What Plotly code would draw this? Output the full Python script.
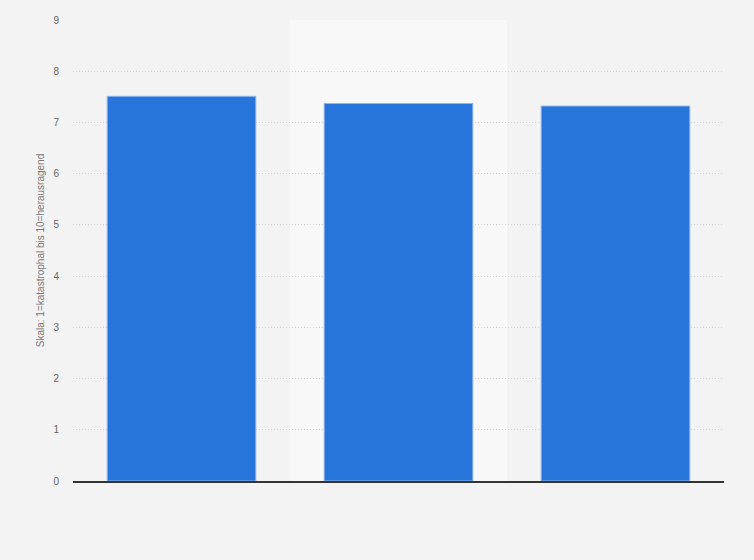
import plotly.graph_objects as go

categories = ["Kategorie 1", "Kategorie 2", "Kategorie 3"]
values = [7.51, 7.37, 7.32]
y_ticks = [0, 1, 2, 3, 4, 5, 6, 7, 8, 9]
y_title = "Skala: 1=katastrophal bis 10=herausragend"

fig = go.Figure()
fig.add_trace(
    go.Bar(
        x=categories,
        y=values,
        width=0.685,
        marker=dict(color="#2775db", line=dict(color="#8fb6ec", width=1)),
        hoverinfo="y",
    )
)

# highlighted middle column band
fig.add_shape(
    type="rect", xref="x", yref="paper",
    x0=0.5, x1=1.5, y0=0, y1=1,
    fillcolor="#f8f8f8", line=dict(width=0), layer="below",
)

fig.update_layout(
    width=754,
    height=560,
    margin=dict(l=73, r=30, t=20, b=79),
    paper_bgcolor="#f3f3f3",
    plot_bgcolor="#f3f3f3",
    font=dict(family="Arial, Liberation Sans, sans-serif", color="#666666", size=10),
    showlegend=False,
    bargap=0.3,
)
fig.update_xaxes(
    showticklabels=False,
    showgrid=False,
    showline=True,
    linecolor="#333333",
    linewidth=1.5,
    zeroline=False,
    range=[-0.5, 2.5],
)
fig.update_yaxes(
    range=[0, 9],
    tickvals=y_ticks,
    showgrid=True,
    gridcolor="#d4d4d4",
    griddash="1px,2px",
    gridwidth=1,
    zeroline=False,
    showline=False,
    ticks="",
    ticklabelstandoff=13,
    tickfont=dict(size=10, color="#666666"),
    title=dict(text=y_title, font=dict(size=10, color="#777777"), standoff=6),
)

fig.write_html(
    "out.html",
    config={"displayModeBar": False},
    post_script="document.body.style.margin='0';document.body.style.background='#f3f3f3';",
)
